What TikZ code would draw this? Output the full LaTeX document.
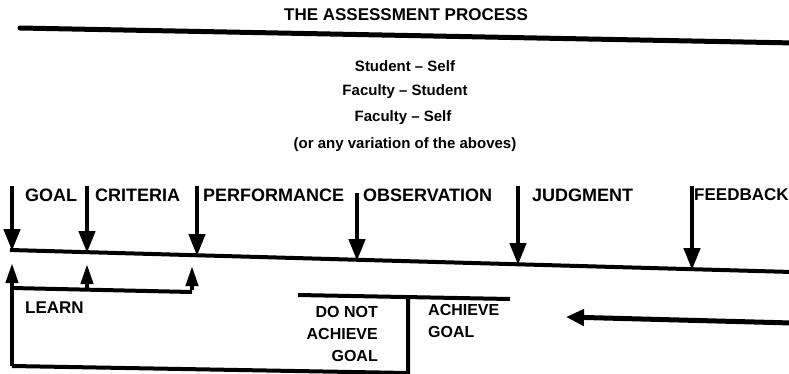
\documentclass[tikz,border=0pt]{standalone}
\usepackage{fontspec}
\setmainfont{Liberation Sans}
\usetikzlibrary{arrows.meta}

\begin{document}
\begin{tikzpicture}[x=1pt,y=-1pt,
  every node/.style={inner sep=0pt},
  title/.style={font=\fontsize{17}{17}\selectfont\bfseries},
  pair/.style={font=\fontsize{15}{15}\selectfont\bfseries},
  stage/.style={anchor=west,font=\fontsize{18}{18}\selectfont\bfseries},
  boxtext/.style={font=\fontsize{16}{22}\selectfont\bfseries},
  rule/.style={line width=5pt,line cap=round},
  flow/.style={line width=4pt},
  downarrow/.style={line width=4.5pt,-{Triangle[width=16pt,length=22pt]}},
  uparrow/.style={line width=4pt,-{Triangle[width=12pt,length=20pt]}},
  backarrow/.style={line width=5pt,-{Triangle[width=16pt,length=18pt]}},
]
\useasboundingbox (0,0) rectangle (789,374);
\clip (0,0) rectangle (789,374);

% heading and its rule
\node[title] (head) at (406,15) {THE ASSESSMENT PROCESS};
\coordinate (ruleL) at (20,28);
\coordinate (ruleR) at (795,43);
\draw[rule] (ruleL) -- (ruleR);

% who assesses whom
\node[pair] (p1) at (405,66) {Student -- Self};
\node[pair] (p2) at (405,92) {Faculty -- Student};
\node[pair] (p3) at (403,118) {Faculty -- Self};
\node[pair] (p4) at (405,145) {(or any variation of the aboves)};

% stages of the process
\node[stage] (goal) at (25,195) {GOAL};
\node[stage] (crit) at (95,195) {CRITERIA};
\node[stage] (perf) at (203,195) {PERFORMANCE};
\node[stage] (obs)  at (363,195) {OBSERVATION};
\node[stage] (judg) at (532,195) {JUDGMENT};
\node[stage,font=\fontsize{17}{17}\selectfont\bfseries] (feed) at (694,195) {FEEDBACK};

% main time line
\coordinate (mainL) at (10,250);
\coordinate (mainR) at (792,272);
\draw[flow] (mainL) -- (mainR);

% arrows dropping onto the time line
\coordinate (d1a) at (12,186);  \coordinate (d1b) at (12,251);
\coordinate (d2a) at (87,186);  \coordinate (d2b) at (87,253);
\coordinate (d3a) at (197,186); \coordinate (d3b) at (197,256);
\coordinate (d4a) at (357,193); \coordinate (d4b) at (357,261);
\coordinate (d5a) at (518,186); \coordinate (d5b) at (518,265);
\coordinate (d6a) at (692,186); \coordinate (d6b) at (692,270);
\foreach \i in {1,...,6} \draw[downarrow] (d\i a) -- (d\i b);

% learning loop
\coordinate (loopBL) at (12,366);
\coordinate (loopT)  at (12,263);
\coordinate (lrnL)   at (12,288);
\coordinate (lrnR)   at (192,292);
\coordinate (u2b)    at (87,290);
\coordinate (u2t)    at (87,264);
\coordinate (u3t)    at (192,266);
\draw[flow] (lrnL) -- (lrnR);
\draw[uparrow] (loopBL) -- (loopT);
\draw[uparrow] (u2b) -- (u2t);
\draw[uparrow] ([yshift=2pt]lrnR) -- (u3t);
\node[stage,font=\fontsize{17}{17}\selectfont\bfseries] (learn) at (25,308) {LEARN};

% outcome box
\coordinate (boxTL) at (298,295);
\coordinate (boxTR) at (510,299);
\coordinate (divT)  at (408,297);
\coordinate (divB)  at (408,373);
\draw[flow] (boxTL) -- (boxTR);
\draw[flow,line join=miter] (loopBL) -- (divB) -- (divT);
\node[boxtext,align=right,anchor=east] (notach) at (378,334) {DO NOT\\ACHIEVE\\GOAL};
\node[boxtext,align=left,anchor=west] (ach) at (428,321) {ACHIEVE\\GOAL};

% feedback returning
\coordinate (backR) at (792,323);
\coordinate (backL) at (566,317);
\draw[backarrow] (backR) -- (backL);
\end{tikzpicture}
\end{document}
